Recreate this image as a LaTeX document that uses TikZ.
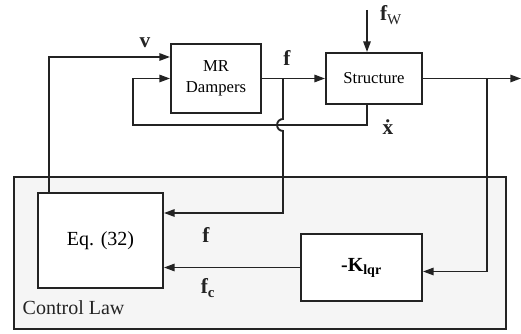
\documentclass[tikz,border=0pt]{standalone}
\usepackage{fontspec}
\setmainfont{Liberation Serif}
\usetikzlibrary{arrows.meta,calc}
\definecolor{ink}{RGB}{35,35,35}
\definecolor{panel}{RGB}{245,245,245}
\tikzset{
  >={Triangle[length=8pt,width=5.5pt]},
  block/.style={draw=ink,fill=white,line width=1.4pt,align=center,inner sep=0pt,
    font=\fontsize{12.5}{15.5}\selectfont},
  panel box/.style={draw=ink,fill=panel,line width=1.4pt,inner sep=0pt},
  sigline/.style={->,draw=ink,line width=1.4pt},
  sig label/.style={font=\fontsize{16}{18}\selectfont\bfseries,text=ink},
}

\begin{document}
\begin{tikzpicture}[x=0.75pt,y=-0.75pt]
  \useasboundingbox (0,0) rectangle (521,334);
  % control law panel
  \node[panel box,minimum width=369pt,minimum height=114pt] (law) at (260,253) {};
  \node[font=\fontsize{15}{17}\selectfont,text=ink,anchor=west] (lawlbl) at (18,308) {Control Law};
  % blocks
  \node[block,minimum width=67.5pt,minimum height=51.75pt] (mr) at (216,78.5) {MR\\Dampers};
  \node[block,minimum width=72pt,minimum height=38.25pt] (st) at (374,78.5) {Structure};
  \node[block,minimum width=93.75pt,minimum height=71.25pt,font=\fontsize{15}{17}\selectfont] (eq) at (100.5,240.5) {Eq. (32)};
  \node[block,minimum width=90.75pt,minimum height=50.25pt,font=\fontsize{15}{17}\selectfont\bfseries] (k) at (361.5,267.5) {-K\textsubscript{lqr}};
  % free ends and taps
  \coordinate (fwin) at (367,10);
  \coordinate (yout) at (521,0 |- st.east);
  \coordinate (ftap) at (mr.east -| 283,0);
  \coordinate (ytap) at (st.east -| 487,0);
  % signals
  \draw[sigline] (fwin) -- (fwin |- st.north);
  \draw[sigline] (mr) -- (st);
  \draw[sigline] (st) -- (yout);
  \draw[sigline] (49,0 |- eq.north) |- (mr.west |- 0,57);
  \draw[sigline] (367,0 |- st.south) |- (133,125) |- (mr.west);
  \draw[sigline] (ftap) -- (283,119) arc[start angle=270,end angle=90,radius=6] |- (eq.east |- 0,213);
  \draw[sigline] (ytap) |- ([yshift=-3pt]k.east);
  \draw[sigline] (k) -- (k -| eq.east);
  % labels
  \node[sig label] (vlbl) at (145,43) {v};
  \node[sig label] (flbl) at (287,58) {f};
  \node[sig label] (fwlbl) at (391,15) {f\textsubscript{\normalfont W}};
  \node[sig label] (xdlbl) at (388,127) {\.{x}};
  \node[sig label] (f2lbl) at (206,235) {f};
  \node[sig label] (fclbl) at (208,288) {f\textsubscript{c}};
\end{tikzpicture}
\end{document}
